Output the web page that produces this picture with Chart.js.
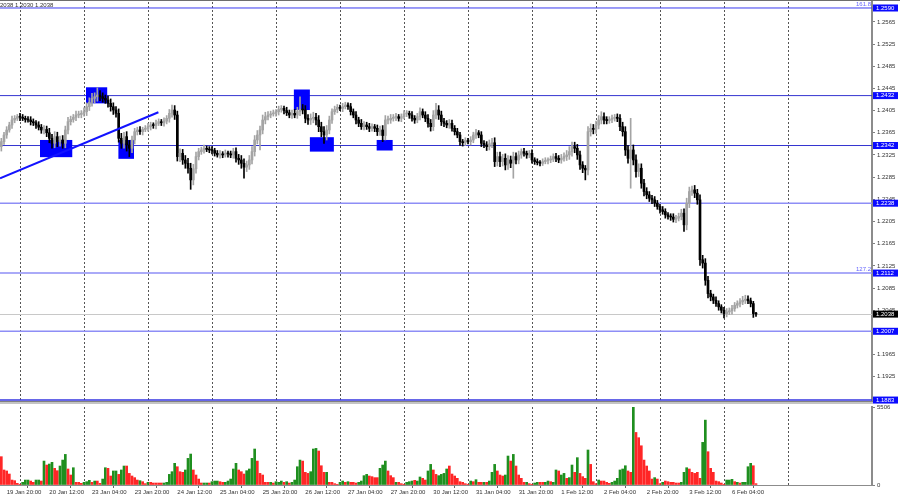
<!DOCTYPE html>
<html>
<head>
<meta charset="utf-8">
<script src="https://cdn.jsdelivr.net/npm/chart.js@4.4.0/dist/chart.umd.min.js"></script>
<style>
  html, body { margin: 0; padding: 0; background: #fff; }
  #wrap { position: relative; width: 900px; height: 500px; overflow: hidden; }
  #price { position: absolute; left: 0; top: 0; }
  #vol { position: absolute; left: 0; top: 404px; }
</style>
</head>
<body>
<div id="wrap">
  <canvas id="price" width="900" height="404"></canvas>
  <canvas id="vol" width="900" height="96"></canvas>
</div>
<script>
// H1 bars, 19 Jan 18:00 .. 6 Feb 13:00
const firstOpen = 1.2340;
const closes = [
  1.2349, 1.2361, 1.2370, 1.2379, 1.2388, 1.2391, 1.2394, 1.2393, 1.2391, 1.2389, 1.2388, 1.2385,
  1.2383, 1.2379, 1.2375, 1.2370, 1.2371, 1.2365, 1.2355, 1.2346, 1.2358, 1.2349, 1.2352, 1.2346,
  1.2370, 1.2385, 1.2389, 1.2393, 1.2397, 1.2398, 1.2400, 1.2403, 1.2412, 1.2420, 1.2427, 1.2430,
  1.2433, 1.2430, 1.2427, 1.2424, 1.2418, 1.2412, 1.2406, 1.2400, 1.2355, 1.2346, 1.2358, 1.2343,
  1.2337, 1.2352, 1.2367, 1.2370, 1.2367, 1.2371, 1.2373, 1.2376, 1.2379, 1.2378, 1.2382, 1.2385,
  1.2383, 1.2386, 1.2391, 1.2400, 1.2406, 1.2397, 1.2322, 1.2328, 1.2316, 1.2310, 1.2301, 1.2280,
  1.2300, 1.2322, 1.2331, 1.2334, 1.2337, 1.2335, 1.2334, 1.2333, 1.2328, 1.2325, 1.2327, 1.2325,
  1.2328, 1.2327, 1.2325, 1.2331, 1.2319, 1.2316, 1.2310, 1.2303, 1.2307, 1.2316, 1.2331, 1.2352,
  1.2361, 1.2370, 1.2388, 1.2394, 1.2397, 1.2399, 1.2400, 1.2403, 1.2407, 1.2409, 1.2405, 1.2401,
  1.2397, 1.2400, 1.2397, 1.2403, 1.2407, 1.2406, 1.2391, 1.2388, 1.2391, 1.2393, 1.2388, 1.2376,
  1.2367, 1.2361, 1.2370, 1.2388, 1.2403, 1.2407, 1.2411, 1.2409, 1.2412, 1.2415, 1.2412, 1.2403,
  1.2397, 1.2388, 1.2382, 1.2376, 1.2379, 1.2376, 1.2373, 1.2376, 1.2373, 1.2367, 1.2370, 1.2360,
  1.2388, 1.2388, 1.2391, 1.2393, 1.2394, 1.2391, 1.2394, 1.2399, 1.2400, 1.2397, 1.2391, 1.2388,
  1.2394, 1.2403, 1.2397, 1.2391, 1.2382, 1.2376, 1.2397, 1.2406, 1.2397, 1.2385, 1.2382, 1.2379,
  1.2382, 1.2373, 1.2367, 1.2361, 1.2349, 1.2347, 1.2351, 1.2349, 1.2352, 1.2361, 1.2365, 1.2361,
  1.2346, 1.2343, 1.2340, 1.2345, 1.2347, 1.2313, 1.2322, 1.2313, 1.2319, 1.2307, 1.2316, 1.2310,
  1.2322, 1.2316, 1.2325, 1.2331, 1.2328, 1.2325, 1.2328, 1.2316, 1.2313, 1.2311, 1.2310, 1.2313,
  1.2315, 1.2316, 1.2317, 1.2322, 1.2319, 1.2316, 1.2319, 1.2322, 1.2325, 1.2331, 1.2340, 1.2337,
  1.2325, 1.2307, 1.2301, 1.2298, 1.2367, 1.2373, 1.2371, 1.2379, 1.2388, 1.2394, 1.2388, 1.2387,
  1.2389, 1.2391, 1.2393, 1.2391, 1.2376, 1.2367, 1.2334, 1.2319, 1.2334, 1.2316, 1.2295, 1.2301,
  1.2274, 1.2259, 1.2253, 1.2247, 1.2244, 1.2238, 1.2232, 1.2226, 1.2223, 1.2217, 1.2214, 1.2213,
  1.2209, 1.2211, 1.2214, 1.2220, 1.2199, 1.2238, 1.2259, 1.2262, 1.2256, 1.2244, 1.2136, 1.2130,
  1.2099, 1.2075, 1.2069, 1.2063, 1.2057, 1.2051, 1.2045, 1.2039, 1.2042, 1.2044, 1.2048, 1.2054,
  1.2057, 1.2060, 1.2063, 1.2065, 1.2062, 1.2057, 1.2039, 1.2038
];
// wick lengths above / below the body, in pips
const wickUp = [
  6,5,6,5,7,5,4,6,5,4,5,6, 5,4,6,5,7,6,8,7,9,8,7,8, 7,8,6,5,7,6,5,7,7,8,9,7,
  13,8,7,6,7,8,7,6,8,9,8,9, 8,7,6,5,6,4,5,6,5,4,6,5, 4,6,5,7,9,8,7,8,7,8,9,9,
  8,8,6,5,6,4,5,6,4,5,6,4, 6,4,5,6,7,7,8,8,7,8,9,8, 8,7,9,8,6,5,6,4,6,5,4,6,
  5,6,7,8,23,9,8,7,8,9,7,8, 8,9,8,7,5,6,5,4,6,5,4,6, 5,6,5,7,6,5,6,5,4,6,7,8,
  8,7,7,5,6,4,5,6,5,4,6,5, 6,7,5,6,7,7,8,12,8,7,6,5, 7,6,5,6,5,4,5,4,6,5,6,4,
  6,5,6,7,8,9,8,8,7,8,8,7, 8,7,7,5,6,4,5,6,4,5,4,5, 5,4,6,5,6,5,7,7,8,9,8,8,
  7,7,6,5,9,8,7,7,8,9,7,6, 5,6,5,6,7,8,9,8,57,9,9,8, 8,7,7,6,5,6,5,4,6,5,4,5,
  6,5,6,7,8,9,8,7,8,7,9,8, 8,7,6,5,6,5,4,5,6,5,6,5, 5,6,7,7,6,5,4,2
];
const wickDn = [
  8,5,6,4,6,5,4,6,4,5,4,6, 5,6,5,6,7,7,8,9,8,9,8,9, 8,7,6,5,6,5,6,5,7,7,7,8,
  8,7,7,6,7,8,8,7,7,9,9,11, 15,8,7,6,5,6,4,5,6,5,6,4, 5,6,5,7,7,8,8,9,8,9,9,17,
  9,8,6,5,6,4,5,6,5,4,6,5, 4,6,5,6,7,8,9,20,8,8,7,8, 7,27,7,7,6,5,4,5,6,5,6,5,
  5,6,5,6,7,7,8,8,8,8,9,9, 9,15,9,7,6,5,6,4,6,4,5,6, 5,7,6,5,6,5,6,5,6,7,7,11,
  8,7,6,5,6,5,6,4,5,6,5,6, 5,6,5,6,7,8,7,7,8,7,6,5, 6,5,6,5,7,6,5,4,6,5,6,5,
  6,5,7,6,7,9,8,9,8,9,8,8, 27,7,7,6,5,6,5,6,5,4,5,4, 4,6,5,4,6,5,6,5,7,8,8,8,
  8,8,8,18,9,8,8,7,7,7,7,6, 5,6,5,6,7,8,10,9,54,9,10,9, 9,8,7,6,7,6,5,6,5,6,5,6,
  5,6,5,6,12,9,8,7,8,8,10,9, 9,8,7,6,5,6,5,8,6,5,6,5, 5,6,5,6,5,6,7,4
];
const volumes = [
  2000, 1060, 990, 775, 350, 305, 120, 50, 190, 350, 350, 280,
  190, 350, 350, 280, 1690, 1410, 1480, 1600, 1175, 1010, 1340, 1760,
  2160, 1130, 705, 1220, 190, 190, 120, 190, 235, 330, 190, 280,
  280, 120, 420, 1220, 1175, 635, 990, 990, 750, 1060, 1340, 1340,
  820, 635, 520, 350, 305, 235, 95, 190, 190, 140, 140, 140,
  140, 140, 190, 750, 940, 1530, 1290, 940, 895, 1060, 1880, 2185,
  1060, 705, 420, 140, 140, 140, 140, 235, 280, 280, 235, 190,
  190, 280, 420, 1130, 1530, 1060, 940, 775, 1010, 1130, 1880, 2540,
  1690, 820, 705, 190, 190, 190, 140, 235, 190, 280, 190, 235,
  140, 190, 350, 1290, 1760, 1690, 895, 820, 940, 2540, 2585, 2400,
  1360, 895, 895, 190, 190, 95, 50, 190, 280, 190, 235, 190,
  190, 140, 190, 280, 660, 750, 635, 590, 520, 520, 1175, 1410,
  1690, 990, 660, 520, 190, 190, 95, 50, 190, 235, 280, 330,
  280, 565, 470, 350, 990, 1455, 1060, 750, 660, 750, 820, 1130,
  1340, 775, 635, 470, 235, 190, 95, 50, 280, 235, 375, 190, 190,
  190, 190, 280, 895, 1455, 990, 705, 635, 705, 2045, 1690, 2160,
  1340, 705, 470, 190, 190, 95, 50, 140, 190, 190, 190, 190,
  280, 235, 190, 1060, 990, 705, 820, 470, 520, 1410, 895, 1930,
  820, 590, 470, 2470, 1455, 235, 95, 350, 280, 280, 190, 120,
  190, 280, 470, 1060, 1130, 1360, 990, 895, 5506, 3710, 3340, 2770,
  1760, 1340, 990, 420, 520, 420, 95, 190, 280, 235, 190, 190,
  140, 140, 190, 895, 1220, 1130, 895, 820, 895, 470, 3010, 4580,
  2350, 1175, 895, 280, 235, 140, 50, 350, 350, 400, 235, 190,
  140, 190, 190, 1290, 1530, 1360, 95
];
// g = volume bar drawn green, r = red
const volumeDir =
  'rrrrrrrrgggr' + 'rggrgrggrrgg' + 'grrgrrrgggrg' + 'rrggrrggrggr' + 'rrrrgrrgrrrr' +
  'rgggggrrrggg' + 'rrrrggrgggrr' + 'gggggrrrgggg' + 'rrrrrgrgggrg' + 'rggggrrrgggr' +
  'rrgrrrrggrgr' + 'rrggggrrrrgg' + 'grrrgrrrgggr' + 'ggrrggrrgggg' + 'r' +
  'rrrrrrrgrgrr' + 'grgggrrrggrg' + 'rrrrgrrggrrg' + 'grggrggrggrg' + 'rrrgrrrgrrrr' +
  'ggggggrrgrrr' + 'rrrrgrrgrrrr' + 'rrgggrrrrrgg' + 'rrrrrrrgggrg' + 'rggggrr';

const timeLabels = ['19 Jan 20:00', '20 Jan 12:00', '23 Jan 04:00', '23 Jan 20:00', '24 Jan 12:00',
  '25 Jan 04:00', '25 Jan 20:00', '26 Jan 12:00', '27 Jan 04:00', '27 Jan 20:00', '30 Jan 12:00',
  '31 Jan 04:00', '31 Jan 20:00', '1 Feb 12:00', '2 Feb 04:00', '2 Feb 20:00', '3 Feb 12:00', '6 Feb 04:00'];
const timeLabelBars = [2, 18, 34, 50, 66, 82, 98, 114, 130, 146, 162, 178, 194, 210, 226, 242, 258, 274];
const gridBars = [7, 31, 55, 79, 103, 127, 151, 175, 199, 223, 247, 271, 295];
const priceTicks = [1.1885, 1.1925, 1.1965, 1.2005, 1.2045, 1.2085, 1.2125, 1.2165, 1.2205,
  1.2245, 1.2285, 1.2325, 1.2365, 1.2405, 1.2445, 1.2485, 1.2525, 1.2565];
const levels = [1.2590, 1.2432, 1.2342, 1.2238, 1.2112, 1.2007, 1.1883];
const levelNotes = ['161.8', '', '', '', '127.2', '', ''];
// [from bar, to bar, top price, bottom price]
const zones = [
  [14.5, 26.6, 1.2352, 1.2321],
  [31.75, 39.7, 1.2447, 1.2418],
  [43.9, 49.75, 1.2352, 1.2318],
  [109.7, 115.7, 1.2443, 1.2406],
  [115.7, 124.7, 1.2357, 1.2331],
  [140.75, 146.75, 1.2352, 1.2333]
];
const trendBars = [-0.5, 58.9];
const trendPrices = [1.2283, 1.2402];
const headerText = '2038 1.2030 1.2038';

// Styles
const levelLook = [
  { color: '#3a3af0', width: 1 },
  { color: '#3434d0', width: 1 },
  { color: '#3434d0', width: 1 },
  { color: '#8e8ef6', width: 1.6 },
  { color: '#8e8ef6', width: 1.6 },
  { color: '#8e8ef6', width: 1.6 },
  { color: '#3434e0', width: 1.4 }
];
const BULL = '#a4a4a4';
const BEAR = '#000000';
const VOL_UP = '#1f8f1f';
const VOL_DN = '#ff2626';
const FONT = 'Liberation Sans, Arial, sans-serif';
const X_MIN = -0.5;
const X_MAX = 326.5;
const AXIS_W = 28;

Chart.defaults.font.family = FONT;
Chart.defaults.font.size = 6;
Chart.defaults.color = '#333333';

// Candles
const opens = closes.map((c, i) => i === 0 ? firstOpen : closes[i - 1]);
const highs = closes.map((c, i) => Math.max(opens[i], c) + wickUp[i] / 10000);
const lows = closes.map((c, i) => Math.min(opens[i], c) - wickDn[i] / 10000);
const candleColors = closes.map((c, i) => c >= opens[i] ? BULL : BEAR);

function fixedAxis(width) {
  return function(s) {
    s.width = width;
    s.paddingTop = 0;
    s.paddingBottom = 0;
  };
}

// Dashed vertical grid for both panels
const vGrid = {
  id: 'vGrid',
  beforeDatasetsDraw(chart) {
    const { ctx, chartArea: a, scales: { x } } = chart;
    ctx.save();
    ctx.strokeStyle = '#555555';
    ctx.lineWidth = 1;
    ctx.setLineDash([2, 2]);
    gridBars.forEach(b => {
      const px = Math.round(x.getPixelForValue(b)) + 0.5;
      ctx.beginPath();
      ctx.moveTo(px, a.top);
      ctx.lineTo(px, a.bottom);
      ctx.stroke();
    });
    ctx.restore();
  }
};

const priceOverlays = {
  id: 'priceOverlays',
  beforeDatasetsDraw(chart) {
    const { ctx, chartArea: a, scales: { x, y } } = chart;
    ctx.save();
    ctx.beginPath();
    ctx.rect(a.left, a.top, a.right - a.left, a.bottom - a.top);
    ctx.clip();

    // current price line
    const last = closes[closes.length - 1];
    const ly = Math.round(y.getPixelForValue(last)) + 0.5;
    ctx.strokeStyle = '#c8c8c8';
    ctx.lineWidth = 1;
    ctx.beginPath();
    ctx.moveTo(a.left, ly);
    ctx.lineTo(a.right, ly);
    ctx.stroke();

    // levels
    levels.forEach((p, k) => {
      const py = y.getPixelForValue(p);
      ctx.strokeStyle = levelLook[k].color;
      ctx.lineWidth = levelLook[k].width;
      ctx.beginPath();
      ctx.moveTo(a.left, py);
      ctx.lineTo(a.right, py);
      ctx.stroke();
      if (levelNotes[k]) {
        ctx.fillStyle = '#6464ff';
        ctx.font = '6px ' + FONT;
        ctx.textAlign = 'right';
        ctx.textBaseline = 'bottom';
        ctx.fillText(levelNotes[k], a.right - 1, py - 1);
      }
    });

    // zones
    ctx.fillStyle = '#0000ff';
    zones.forEach(([b0, b1, p0, p1]) => {
      const x0 = x.getPixelForValue(b0);
      const x1 = x.getPixelForValue(b1);
      const y0 = y.getPixelForValue(p0);
      const y1 = y.getPixelForValue(p1);
      ctx.fillRect(x0, y0, x1 - x0, y1 - y0);
    });
    ctx.restore();
  },
  afterDraw(chart) {
    const { ctx, chartArea: a, scales: { y } } = chart;
    ctx.save();
    ctx.font = '6px ' + FONT;
    ctx.textBaseline = 'middle';
    ctx.textAlign = 'left';

    // price boxes on the axis
    const boxes = levels.map(p => ({ p, bg: '#0a0aff' }));
    boxes.push({ p: closes[closes.length - 1], bg: '#000000' });
    boxes.forEach(b => {
      const py = y.getPixelForValue(b.p);
      ctx.fillStyle = b.bg;
      ctx.fillRect(a.right + 1, py - 3.5, 25, 7);
      ctx.fillStyle = '#ffffff';
      ctx.fillText(b.p.toFixed(4), a.right + 4, py);
    });

    // header
    ctx.fillStyle = '#303030';
    ctx.fillText(headerText, 0, 5.5);

    // frame
    ctx.fillStyle = '#6e6e6e';
    ctx.fillRect(0, 0, 900, 1);
    ctx.fillStyle = '#808080';
    ctx.fillRect(0, 401, a.right + 1, 1);
    ctx.fillStyle = '#c4c4c4';
    ctx.fillRect(0, 402, a.right + 1, 2);
    ctx.restore();
  }
};

new Chart(document.getElementById('price'), {
  type: 'bar',
  data: {
    datasets: [
      {
        type: 'line',
        data: trendBars.map((b, i) => ({ x: b, y: trendPrices[i] })),
        borderColor: '#1212ff',
        borderWidth: 2,
        pointRadius: 0,
        order: 0
      },
      {
        data: closes.map((c, i) => ({ x: i, y: [opens[i], c] })),
        backgroundColor: candleColors,
        barThickness: 2,
        minBarLength: 1,
        grouped: false,
        order: 1
      },
      {
        data: closes.map((c, i) => ({ x: i, y: [lows[i], highs[i]] })),
        backgroundColor: candleColors,
        barThickness: 1,
        grouped: false,
        order: 2
      }
    ]
  },
  options: {
    responsive: false,
    animation: false,
    events: [],
    layout: { padding: { top: 2, bottom: 3, left: 0, right: 0 } },
    plugins: { legend: { display: false }, tooltip: { enabled: false } },
    scales: {
      x: { type: 'linear', min: X_MIN, max: X_MAX, offset: false, display: false },
      y: {
        position: 'right',
        min: 1.18813,
        max: 1.26008,
        afterFit: fixedAxis(AXIS_W),
        afterBuildTicks(s) { s.ticks = priceTicks.map(v => ({ value: v })); },
        ticks: { callback: v => Number(v).toFixed(4), padding: 2, color: '#333333', font: { size: 6 } },
        grid: { drawOnChartArea: false, drawTicks: true, tickLength: 3, color: '#808080' },
        border: { display: true, color: '#8c8c8c', width: 2 }
      }
    }
  },
  plugins: [vGrid, priceOverlays]
});

new Chart(document.getElementById('vol'), {
  type: 'bar',
  data: {
    datasets: [{
      data: volumes.map((v, i) => ({ x: i, y: v })),
      backgroundColor: volumes.map((v, i) => volumeDir[i] === 'g' ? VOL_UP : VOL_DN),
      barThickness: 2,
      grouped: false
    }]
  },
  options: {
    responsive: false,
    animation: false,
    events: [],
    layout: { padding: { top: 3, bottom: 0, left: 0, right: 0 } },
    plugins: { legend: { display: false }, tooltip: { enabled: false } },
    scales: {
      x: {
        type: 'linear',
        min: X_MIN,
        max: X_MAX,
        offset: false,
        afterFit(s) { s.height = 15; s.paddingLeft = 0; s.paddingRight = 0; },
        afterBuildTicks(s) { s.ticks = timeLabelBars.map(v => ({ value: v })); },
        ticks: {
          callback: (v, i) => timeLabels[i],
          align: 'start',
          autoSkip: false,
          maxRotation: 0,
          padding: 1,
          color: '#333333',
          font: { size: 6 }
        },
        grid: { drawOnChartArea: false, drawTicks: true, tickLength: 3, color: '#666666' },
        border: { display: true, color: '#8c8c8c', width: 1 }
      },
      y: {
        position: 'right',
        min: 0,
        max: 5506,
        afterFit: fixedAxis(AXIS_W),
        afterBuildTicks(s) { s.ticks = [{ value: 0 }, { value: 5506 }]; },
        ticks: { callback: v => String(v), padding: 2, color: '#333333', font: { size: 6 } },
        grid: { drawOnChartArea: false, drawTicks: true, tickLength: 3, color: '#808080' },
        border: { display: true, color: '#8c8c8c', width: 2 }
      }
    }
  },
  plugins: [vGrid]
});
</script>
</body>
</html>
